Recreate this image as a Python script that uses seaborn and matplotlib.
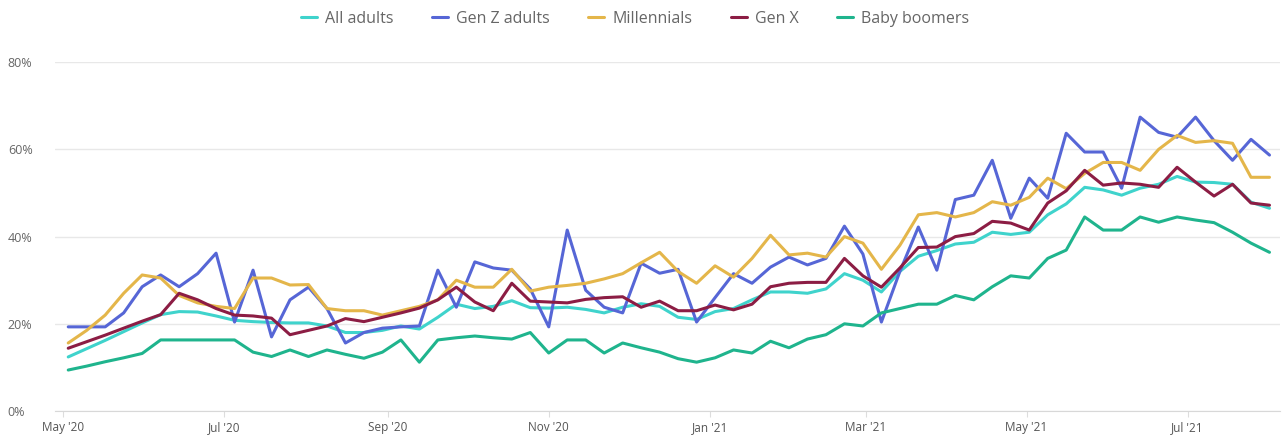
import matplotlib
matplotlib.use("Agg")
import matplotlib.pyplot as plt
import matplotlib.dates as mdates
from matplotlib.ticker import FuncFormatter
import pandas as pd
import seaborn as sns

# weekly readings, May 3 2020 -> Aug 1 2021
dates = pd.date_range("2020-05-03", "2021-08-01", freq="7D")

all_adults = [
    12.4, 14.3, 16.2, 18.2, 20.2, 22.1, 22.8, 22.7, 21.8, 20.8,
    20.5, 20.3, 20.2, 20.2, 19.5, 18.0, 18.0, 18.5, 19.5, 18.8,
    21.5, 24.5, 23.5, 24.0, 25.3, 23.7, 23.6, 23.8, 23.3, 22.5,
    23.8, 24.6, 24.0, 21.5, 21.0, 22.8, 23.5, 25.5, 27.3, 27.3,
    27.0, 28.0, 31.5, 30.0, 27.3, 32.0, 35.5, 36.8, 38.3, 38.7,
    41.0, 40.5, 41.0, 45.0, 47.5, 51.3, 50.7, 49.5, 51.1, 52.0,
    53.8, 52.5, 52.4, 52.0, 47.9, 46.5,
]
gen_z = [
    19.3, 19.3, 19.3, 22.5, 28.5, 31.2, 28.5, 31.5, 36.2, 20.4,
    32.3, 17.0, 25.5, 28.4, 23.5, 15.6, 18.0, 19.0, 19.3, 19.5,
    32.3, 23.8, 34.2, 32.8, 32.3, 28.0, 19.3, 41.5, 27.7, 23.8,
    22.5, 33.9, 31.6, 32.5, 20.4, 26.0, 31.5, 29.3, 33.0, 35.3,
    33.5, 35.0, 42.4, 36.0, 20.4, 32.0, 42.2, 32.3, 48.5, 49.5,
    57.5, 44.2, 53.4, 48.8, 63.7, 59.4, 59.4, 51.1, 67.4, 63.9,
    62.8, 67.4, 62.0, 57.5, 62.3, 58.7,
]
millennials = [
    15.6, 18.5, 22.0, 27.0, 31.2, 30.5, 26.5, 24.8, 24.0, 23.5,
    30.5, 30.5, 28.9, 29.0, 23.5, 23.0, 23.0, 22.0, 23.0, 24.0,
    25.5, 30.0, 28.4, 28.4, 32.5, 27.5, 28.4, 28.8, 29.3, 30.3,
    31.5, 34.0, 36.4, 32.0, 29.3, 33.3, 30.7, 35.0, 40.3, 35.8,
    36.2, 35.3, 40.0, 38.5, 32.5, 38.0, 45.0, 45.5, 44.5, 45.5,
    48.0, 47.2, 49.0, 53.4, 51.0, 54.5, 57.0, 57.0, 55.2, 60.0,
    63.2, 61.6, 62.0, 61.4, 53.6, 53.6,
]
gen_x = [
    14.4, 15.9, 17.4, 19.0, 20.6, 22.1, 27.0, 25.5, 23.5, 22.0,
    21.8, 21.3, 17.5, 18.5, 19.5, 21.2, 20.5, 21.5, 22.5, 23.6,
    25.5, 28.4, 25.0, 23.0, 29.3, 25.2, 25.0, 24.8, 25.6, 26.0,
    26.2, 23.8, 25.2, 23.0, 23.0, 24.3, 23.2, 24.5, 28.5, 29.3,
    29.5, 29.5, 35.0, 31.0, 28.4, 32.8, 37.5, 37.6, 40.0, 40.7,
    43.5, 43.1, 41.5, 47.7, 50.5, 55.2, 51.8, 52.3, 52.0, 51.3,
    55.9, 52.5, 49.3, 52.0, 47.7, 47.2,
]
baby_boomers = [
    9.4, 10.3, 11.3, 12.2, 13.2, 16.3, 16.3, 16.3, 16.3, 16.3,
    13.5, 12.5, 14.0, 12.5, 14.0, 13.0, 12.1, 13.5, 16.3, 11.2,
    16.3, 16.8, 17.2, 16.8, 16.5, 18.0, 13.3, 16.3, 16.3, 13.3,
    15.6, 14.5, 13.5, 12.0, 11.2, 12.2, 14.0, 13.3, 16.0, 14.5,
    16.5, 17.5, 20.0, 19.5, 22.5, 23.5, 24.5, 24.5, 26.5, 25.5,
    28.5, 31.0, 30.5, 35.0, 36.9, 44.5, 41.5, 41.5, 44.5, 43.3,
    44.5, 43.8, 43.2, 41.0, 38.5, 36.4,
]

groups = ["All adults", "Gen Z adults", "Millennials", "Gen X", "Baby boomers"]
colors = ["#3fd3cc", "#5666d6", "#e4b64a", "#8c1d44", "#1fb48d"]

df = pd.DataFrame({
    "date": dates,
    "All adults": all_adults,
    "Gen Z adults": gen_z,
    "Millennials": millennials,
    "Gen X": gen_x,
    "Baby boomers": baby_boomers,
})
long = df.melt(id_vars="date", var_name="group", value_name="share")

sns.set_style("white")
plt.rcParams["font.family"] = ["Open Sans", "DejaVu Sans"]

fig = plt.figure(figsize=(12.83, 4.41), dpi=100)
ax = fig.add_axes([0.0429, 0.068, 0.9548, 0.791])

sns.lineplot(data=long, x="date", y="share", hue="group", hue_order=groups,
             palette=colors, linewidth=2.2, ax=ax, legend=True)
for ln in ax.lines:
    ln.set_solid_joinstyle("round")
    ln.set_solid_capstyle("round")

ax.set_ylim(0, 80)
ax.set_yticks([0, 20, 40, 60, 80])
ax.yaxis.set_major_formatter(FuncFormatter(lambda v, p: f"{int(v)}%"))
ax.set_xlim(pd.Timestamp("2020-04-28"), pd.Timestamp("2021-08-05"))
ax.xaxis.set_major_locator(mdates.MonthLocator(bymonth=[1, 3, 5, 7, 9, 11]))
ax.xaxis.set_major_formatter(mdates.DateFormatter("%b '%y"))

ax.grid(axis="y", color="#e8e8e8", linewidth=1)
ax.grid(axis="x", visible=False)
for s in ["top", "right", "left"]:
    ax.spines[s].set_visible(False)
ax.spines["bottom"].set_color("#d8d8d8")
ax.tick_params(axis="y", length=0, pad=34, labelsize=9, labelcolor="#666666")
ax.tick_params(axis="x", length=4, color="#dddddd", pad=3, labelsize=8.5,
               labelcolor="#555555", bottom=True)
for lab in ax.get_yticklabels():
    lab.set_horizontalalignment("left")
ax.set_xlabel("")
ax.set_ylabel("")

handles, labels = ax.get_legend_handles_labels()
ax.legend_.remove()
fig.legend(handles, labels, loc="center", bbox_to_anchor=(0.495, 0.957), ncol=5,
           frameon=False, handlelength=1.0, handletextpad=0.5, columnspacing=2.4,
           fontsize=11.5, labelcolor="#666666")

fig.savefig("out.png", dpi=100)
